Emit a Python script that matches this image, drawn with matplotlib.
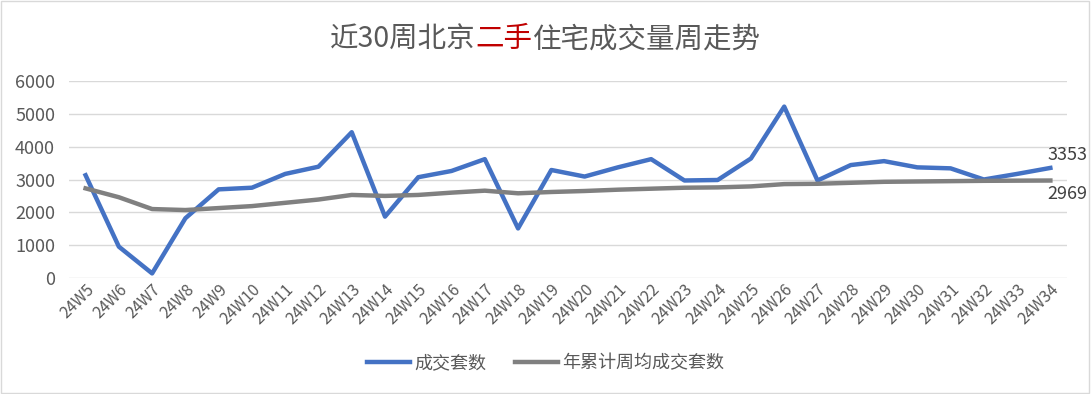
import numpy as np
import matplotlib.pyplot as plt
from matplotlib.patches import Rectangle

plt.rcParams['font.family'] = ['Noto Sans CJK SC', 'DejaVu Sans']

weeks = ['24W%d' % i for i in range(5, 35)]
deals = [3130, 955, 140, 1820, 2700, 2750, 3170, 3390, 4440, 1870,
         3070, 3260, 3620, 1510, 3290, 3090, 3370, 3620, 2970, 2985,
         3640, 5220, 2970, 3440, 3560, 3370, 3340, 3000, 3170, 3353]
avg_deals = [2730, 2460, 2100, 2070, 2130, 2190, 2290, 2390, 2530, 2500,
             2530, 2600, 2660, 2580, 2620, 2650, 2690, 2720, 2750, 2760,
             2790, 2860, 2870, 2900, 2930, 2940, 2950, 2960, 2965, 2969]

blue = '#4472C4'
gray = '#808080'
txt = '#595959'

fig = plt.figure(figsize=(10.91, 3.94), dpi=100)
fig.patches.append(Rectangle((0.001, 0.002), 0.997, 0.995, transform=fig.transFigure,
                             fill=False, edgecolor='#D9D9D9', linewidth=1))

ax = fig.add_axes([0.0632, 0.2944, 0.9148, 0.5])
x = np.arange(len(weeks))
ax.plot(x, deals, color=blue, lw=3.2, label='成交套数', solid_joinstyle='round')
ax.plot(x, avg_deals, color=gray, lw=3.2, label='年累计周均成交套数', solid_joinstyle='round')

ax.set_xlim(-0.5, len(weeks) - 0.5)
ax.set_ylim(0, 6000)
ax.set_yticks(range(0, 6001, 1000))
ax.yaxis.grid(True, color='#D9D9D9', lw=1)
ax.set_axisbelow(True)
for s in ax.spines.values():
    s.set_visible(False)
ax.tick_params(axis='both', length=0, colors=txt, labelsize=13)
ax.tick_params(axis='y', pad=10)
ax.tick_params(axis='x', pad=2)
ax.set_xticks(x)
ax.set_xticklabels(weeks, rotation=45, ha='right', va='top', rotation_mode='anchor', fontsize=11.5)

ax.annotate(str(deals[-1]), (x[-1], deals[-1]), xytext=(-2, 3), textcoords='offset points',
            ha='left', va='bottom', fontsize=13, color='#404040')
ax.annotate(str(avg_deals[-1]), (x[-1], avg_deals[-1]), xytext=(-2, -3), textcoords='offset points',
            ha='left', va='top', fontsize=13, color='#404040')

fig.legend(loc='center', bbox_to_anchor=(0.5, 0.079), ncol=2, frameon=False,
           fontsize=13, handlelength=2.4, handletextpad=0.2, columnspacing=1.6, labelcolor=txt)

# title with red part
parts = [('近30周北京', txt), ('二手', '#C00000'), ('住宅成交量周走势', txt)]
fig.canvas.draw()
r = fig.canvas.get_renderer()
texts = [fig.text(0, 0.9, p, color=c, fontsize=20.5, va='center', ha='left') for p, c in parts]
widths = [t.get_window_extent(r).width / fig.bbox.width for t in texts]
xpos = 0.5 - sum(widths) / 2
for t, w in zip(texts, widths):
    t.set_x(xpos)
    xpos += w

fig.savefig('out.png', dpi=100)
